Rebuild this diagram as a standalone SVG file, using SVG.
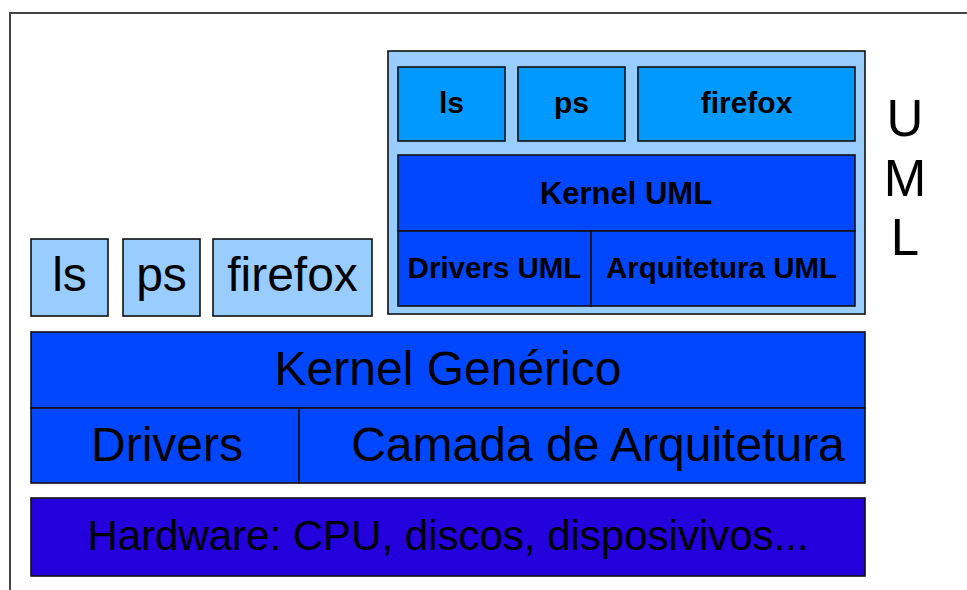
<svg xmlns="http://www.w3.org/2000/svg" width="967" height="590" viewBox="0 0 967 590">
<style>
.b{stroke:#111;stroke-width:1.6}
.t{font-family:"Liberation Sans",Arial,sans-serif;fill:#000;text-anchor:middle}
.n{font-size:48px}
.bd{font-size:30px;font-weight:bold}
.app{fill:#99ccff}
.app2{fill:#0099ff}
.k{fill:#0047ff}
.hw{fill:#2400dc}
</style>
<rect x="0" y="0" width="967" height="590" fill="#fff"/>
<rect x="10" y="13" width="1000" height="640" fill="none" stroke="#444" stroke-width="2"/>
<g id="ls"><rect class="b app" x="31" y="239" width="77" height="77"/><text class="t n" x="69.5" y="291">ls</text></g>
<g id="ps"><rect class="b app" x="123" y="239" width="77" height="77"/><text class="t n" x="161.5" y="291">ps</text></g>
<g id="firefox"><rect class="b app" x="213" y="239" width="159" height="77"/><text class="t n" x="292.5" y="291">firefox</text></g>
<g id="uml">
<rect class="b app" x="388" y="51" width="477" height="263"/>
<g id="uml-ls"><rect class="b app2" x="398" y="67" width="107" height="74"/><text class="t bd" x="451.5" y="113">ls</text></g>
<g id="uml-ps"><rect class="b app2" x="518" y="67" width="107" height="74"/><text class="t bd" x="571.5" y="113">ps</text></g>
<g id="uml-firefox"><rect class="b app2" x="638" y="67" width="217" height="74"/><text class="t bd" x="746.5" y="113">firefox</text></g>
<g id="kernel-uml"><rect class="b k" x="398" y="155" width="457" height="76"/><text class="t bd" x="626" y="204" style="font-size:31px">Kernel UML</text></g>
<g id="drivers-uml"><rect class="b k" x="398" y="231" width="193" height="75"/><text class="t bd" x="494.5" y="278" style="font-size:29.5px">Drivers UML</text></g>
<g id="arq-uml"><rect class="b k" x="591" y="231" width="264" height="75"/><text class="t bd" x="721.5" y="278" style="font-size:29.5px">Arquitetura UML</text></g>
</g>
<g id="uml-label">
<text class="t" x="905" y="136" style="font-size:51px">U</text>
<text class="t" x="905" y="196" style="font-size:51px">M</text>
<text class="t" x="905" y="255" style="font-size:51px">L</text>
</g>
<g id="kernel"><rect class="b k" x="31" y="332" width="834" height="76"/><text class="t n" x="448" y="385">Kernel Genérico</text></g>
<g id="drivers"><rect class="b k" x="31" y="408" width="268" height="75"/><text class="t n" x="167" y="461">Drivers</text></g>
<g id="arq"><rect class="b k" x="299" y="408" width="566" height="75"/><text class="t n" x="598" y="461">Camada de Arquitetura</text></g>
<g id="hardware"><rect class="b hw" x="31" y="498" width="834" height="78"/><text class="t" x="448" y="550" style="font-size:42px">Hardware: CPU, discos, disposivivos...</text></g>
<g id="connectors"/>
</svg>
